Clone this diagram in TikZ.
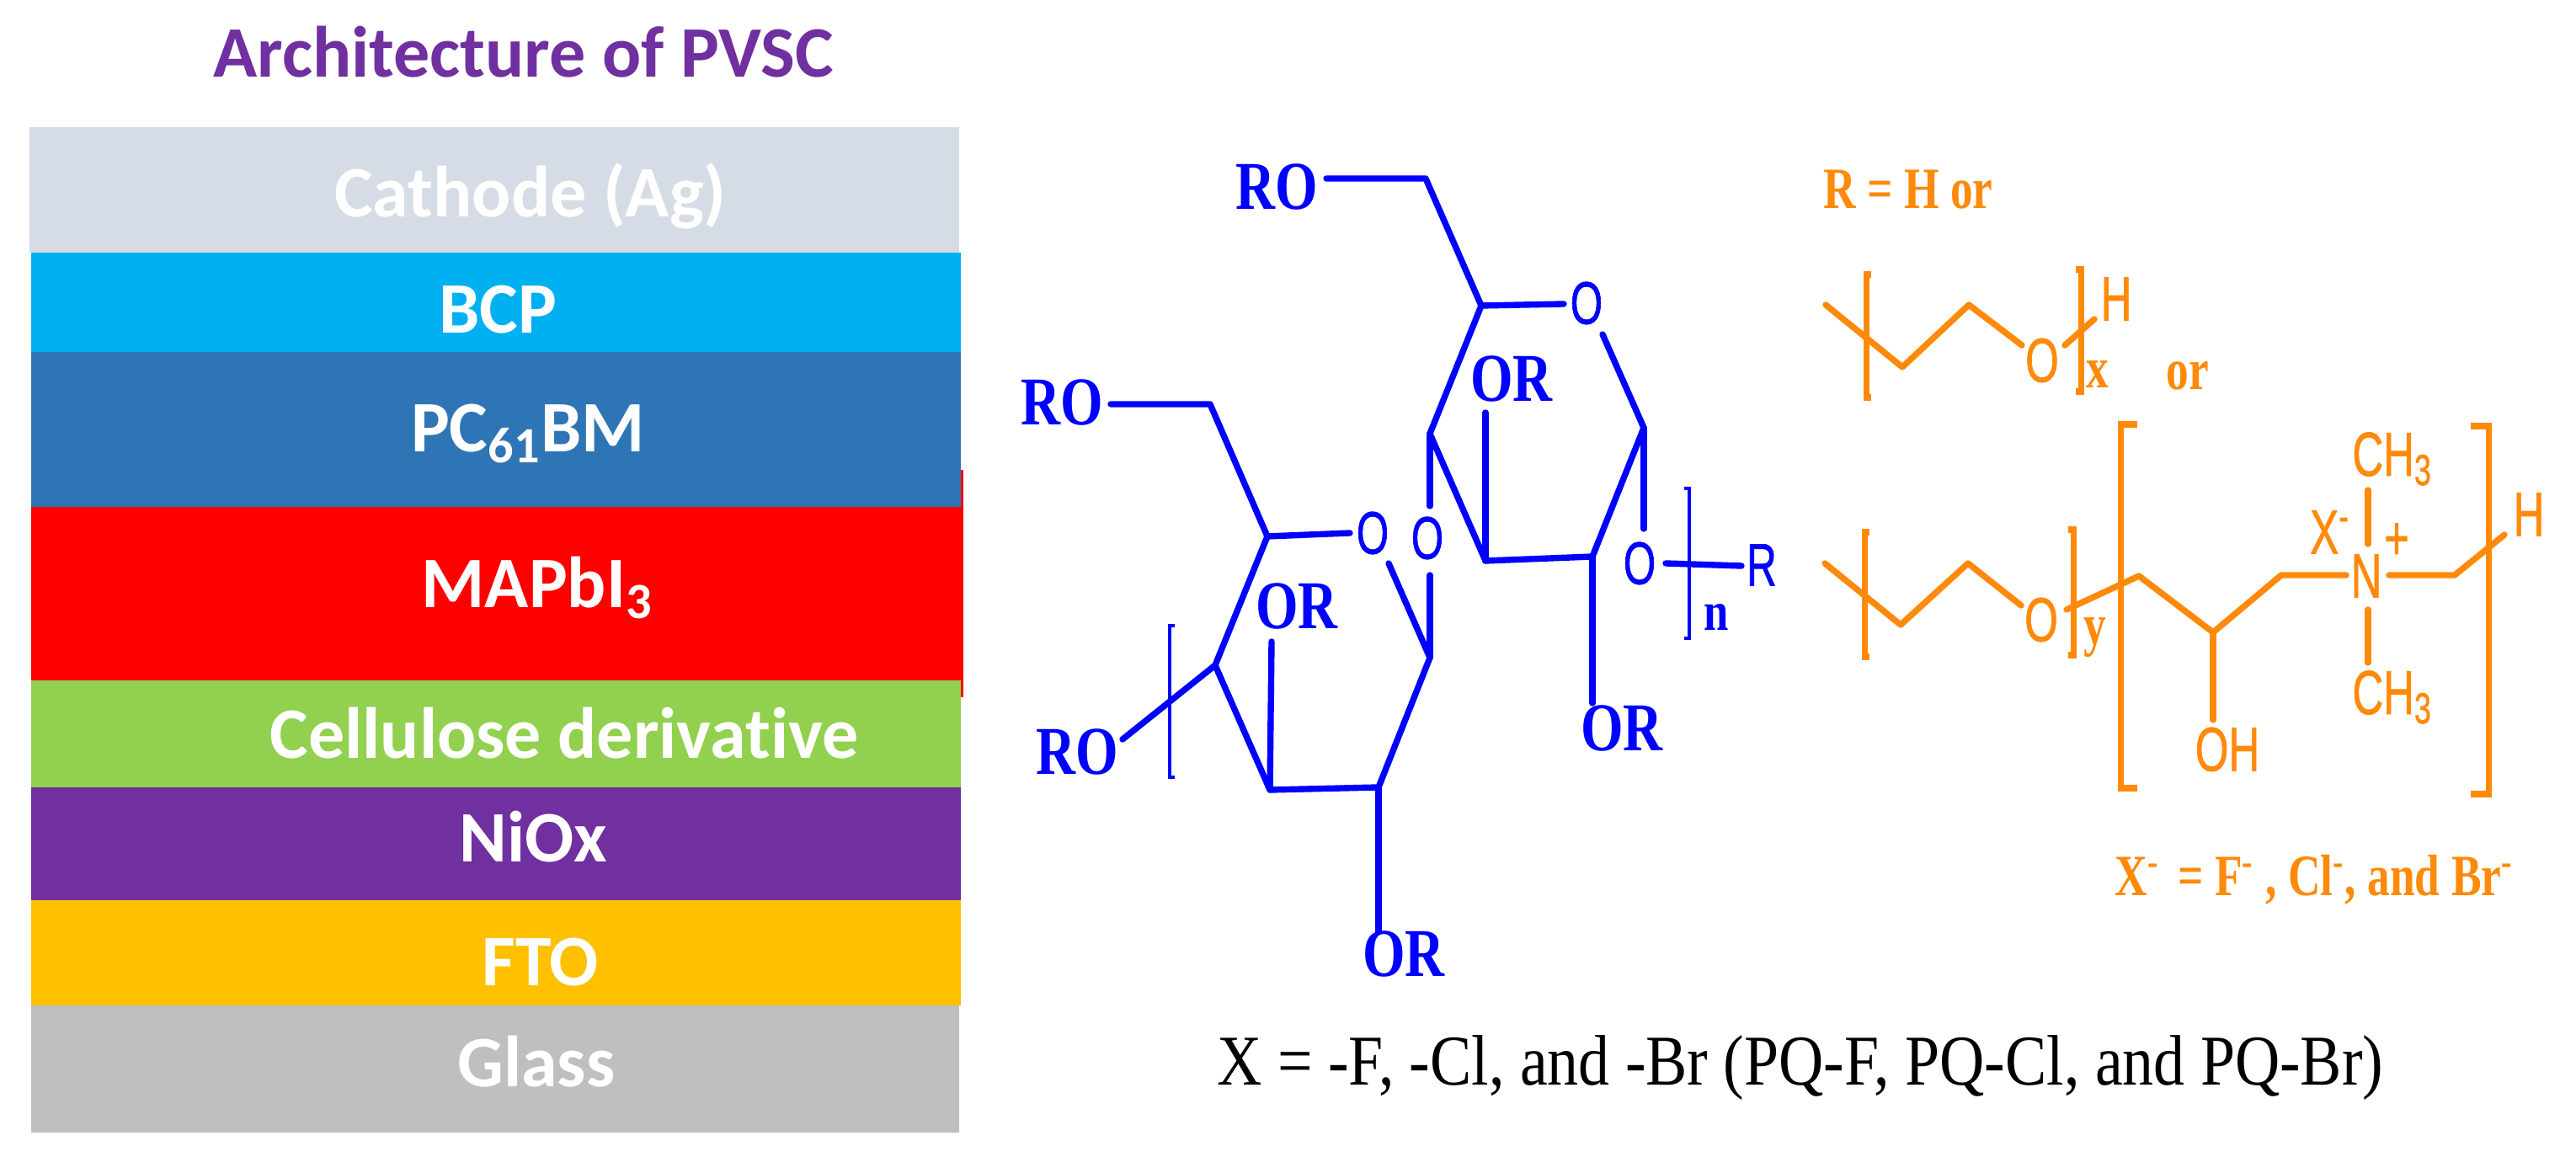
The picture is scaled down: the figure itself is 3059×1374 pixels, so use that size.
\documentclass[tikz,border=0pt]{standalone}
\usepackage{fontspec}
\setmainfont{Liberation Serif}
\newfontfamily\layerfont{Carlito}[BoldFont={Carlito Bold}, Ligatures=CommonOff]
\newfontfamily\atomfont{Liberation Sans}[FakeBold=1.2, AutoFakeBold=1.2]
\definecolor{cathodegray}{HTML}{D6DCE5}
\definecolor{bcpblue}{HTML}{00B0F0}
\definecolor{pcblue}{HTML}{2E75B6}
\definecolor{cellgreen}{HTML}{92D050}
\definecolor{niopurple}{HTML}{7030A0}
\definecolor{ftoyellow}{HTML}{FFC000}
\definecolor{glassgray}{HTML}{BFBFBF}
\definecolor{chainorange}{HTML}{FF8A0A}
\definecolor{ringblue}{HTML}{0000FF}
\tikzset{
  layerlabel/.style={text=white, font=\layerfont\bfseries\fontsize{24.5}{26}\selectfont, inner sep=0pt},
  bluebond/.style={ringblue, line width=2.1pt, line cap=round, line join=round},
  bluebracket/.style={ringblue, line width=1.3pt},
  bluelabel/.style={text=ringblue, font=\bfseries\fontsize{18.5}{20}\selectfont, inner sep=0pt, yscale=1.25, transform shape},
  blueatom/.style={text=ringblue, font=\atomfont\bfseries\fontsize{14}{18}\selectfont, inner sep=0pt, yscale=1.45, transform shape},
  orangebond/.style={chainorange, line width=2.1pt, line cap=round, line join=round},
  orangebracket/.style={chainorange, line width=2pt},
  orangeserif/.style={text=chainorange, font=\bfseries\fontsize{15.2}{18}\selectfont, inner sep=0pt, yscale=1.3, transform shape},
  orangeatom/.style={text=chainorange, font=\atomfont\bfseries\fontsize{14.5}{18}\selectfont, inner sep=0pt, yscale=1.45, transform shape},
}
\begin{document}
\begin{tikzpicture}[x=0.1mm, y=-0.1mm]
  \useasboundingbox (0,0) rectangle (3059,1374);
  % device stack
  \fill[red] (1130,558) rectangle (1144,828);
  \fill[cathodegray] (35,151) rectangle (1139,300);
  \fill[bcpblue] (37,300) rectangle (1141,418);
  \fill[pcblue] (37,418) rectangle (1141,602);
  \fill[red] (37,602) rectangle (1144,808);
  \fill[cellgreen] (37,808) rectangle (1141,935);
  \fill[niopurple] (37,935) rectangle (1141,1069);
  \fill[ftoyellow] (37,1069) rectangle (1141,1194);
  \fill[glassgray] (37,1194) rectangle (1139,1345);
  \node[text=niopurple, font=\layerfont\bfseries\fontsize{24.5}{26}\selectfont, inner sep=0pt] (title) at (622,62) {Architecture of PVSC};
  \node[layerlabel] (cathode) at (630,233) {Cathode (Ag)};
  \node[layerlabel] (bcp) at (591,368) {BCP};
  \node[layerlabel] (pcbm) at (627,515) {PC\textsubscript{61}BM};
  \node[layerlabel] (perovskite) at (638,698) {MAPbI\textsubscript{3}};
  \node[layerlabel] (cellulose) at (670,871) {Cellulose derivative};
  \node[layerlabel] (niox) at (633,994) {NiOx};
  \node[layerlabel] (fto) at (642,1143) {FTO};
  \node[layerlabel] (glass) at (637,1261) {Glass};
  % upper ring atoms
  \coordinate (ua) at (1759,363);
  \coordinate (ub) at (1952,508);
  \coordinate (uc) at (1891,661);
  \coordinate (ud) at (1764,666);
  \coordinate (ue) at (1698,515);
  \coordinate (uf) at (1693,212);
  % lower ring atoms
  \coordinate (la) at (1505,637);
  \coordinate (lb) at (1698,781);
  \coordinate (lc) at (1637,935);
  \coordinate (ld) at (1508,938);
  \coordinate (le) at (1443,790);
  \coordinate (lf) at (1437,480);
  % blue labels
  \node[bluelabel] (rotop) at (1516,222) {RO};
  \node[bluelabel] (roleft) at (1261,478) {RO};
  \node[bluelabel] (rolow) at (1279,893) {RO};
  \node[bluelabel] (orua) at (1795,450) {OR};
  \node[bluelabel] (orub) at (1926,865) {OR};
  \node[bluelabel] (orla) at (1540,720) {OR};
  \node[bluelabel] (orlb) at (1667,1133) {OR};
  \node[blueatom] (oua) at (1884,360) {O};
  \node[blueatom] (oub) at (1947,669) {O};
  \node[blueatom] (olink) at (1695,639) {O};
  \node[blueatom] (ola) at (1630,633) {O};
  \node[blueatom] (rend) at (2092,671) {R};
  \node[bluelabel, font=\bfseries\fontsize{15}{18}\selectfont] (nsub) at (2038,733) {n};
  % upper ring bonds
  \draw[bluebond] (1575,212) -- (uf) -- (ua) -- (1857,361);
  \draw[bluebond] (1903,397) -- (ub) -- (uc) -- (ud) -- (ue) -- (ua);
  \draw[bluebond] (ud) -- (1764,490);
  \draw[bluebond] (ub) -- (1952,628);
  \draw[bluebond] (uc) -- (1891,835);
  \draw[bluebond] (ue) -- (1698,601);
  \draw[bluebond] (1698,683) -- (lb);
  \draw[bluebond] (1978,669) -- (2068,672);
  \draw[bluebracket] (2000,580) -- (2006,580) -- (2006,758) -- (2000,758);
  % lower ring bonds
  \draw[bluebond] (1319,480) -- (lf) -- (la) -- (1603,633);
  \draw[bluebond] (1649,669) -- (lb) -- (lc) -- (ld) -- (le) -- (la);
  \draw[bluebond] (ld) -- (1510,762);
  \draw[bluebond] (lc) -- (1637,1106);
  \draw[bluebond] (le) -- (1333,878);
  \draw[bluebracket] (1395,743) -- (1389,743) -- (1389,923) -- (1395,923);
  % orange side chains
  \node[orangeserif] (rdef) at (2266,225) {R = H or};
  \node[orangeserif] (orword) at (2598,446) {or};
  \node[orangeatom] (ox) at (2425,428) {O};
  \node[orangeatom] (hx) at (2513,355) {H};
  \node[orangeserif] (xsub) at (2491,445) {x};
  \draw[orangebond] (2168,362) -- (2259,436) -- (2338,362) -- (2401,410);
  \draw[orangebond] (2452,410) -- (2487,379);
  \draw[orangebracket] (2222,326) -- (2216,326) -- (2216,472) -- (2222,472);
  \draw[orangebracket] (2465,320) -- (2471,320) -- (2471,465) -- (2465,465);
  \node[orangeatom] (oy) at (2424,736) {O};
  \node[orangeserif] (ysub) at (2488,757) {y};
  \node[orangeatom] (nplus) at (2810,684) {N};
  \node[orangeatom] (oh) at (2645,890) {OH};
  \node[orangeatom] (methyla) at (2841,545) {CH\textsubscript{3}};
  \node[orangeatom] (methylb) at (2841,828) {CH\textsubscript{3}};
  \node[orangeatom] (xion) at (2767,632) {X\textsuperscript{-}};
  \node[orangeatom] (plus) at (2846,643) {+};
  \node[orangeatom] (hy) at (3003,611) {H};
  \draw[orangebond] (2167,669) -- (2257,742) -- (2337,669) -- (2400,719);
  \draw[orangebond] (2454,724) -- (2540,684) -- (2628,751) -- (2709,683) -- (2786,683);
  \draw[orangebond] (2837,683) -- (2915,683) -- (2974,635);
  \draw[orangebond] (2628,751) -- (2628,855);
  \draw[orangebond] (2812,582) -- (2812,646);
  \draw[orangebond] (2812,724) -- (2812,787);
  \draw[orangebracket] (2220,632) -- (2214,632) -- (2214,780) -- (2220,780);
  \draw[orangebracket] (2456,629) -- (2462,629) -- (2462,778) -- (2456,778);
  \draw[orangebracket] (2538,504) -- (2518,504) -- (2518,936) -- (2538,936);
  \draw[orangebracket] (2934,506) -- (2955,506) -- (2955,943) -- (2934,943);
  \node[orangeserif] (xdef) at (2748,1045) {X\textsuperscript{-}\, = F\textsuperscript{-} , Cl\textsuperscript{-}, and Br\textsuperscript{-}};
  % caption
  \node[font=\fontsize{21}{24}\selectfont, inner sep=0pt, yscale=1.15, transform shape] (caption) at (2138,1268) {X = -F, -Cl, and -Br (PQ-F, PQ-Cl, and PQ-Br)};
\end{tikzpicture}
\end{document}
